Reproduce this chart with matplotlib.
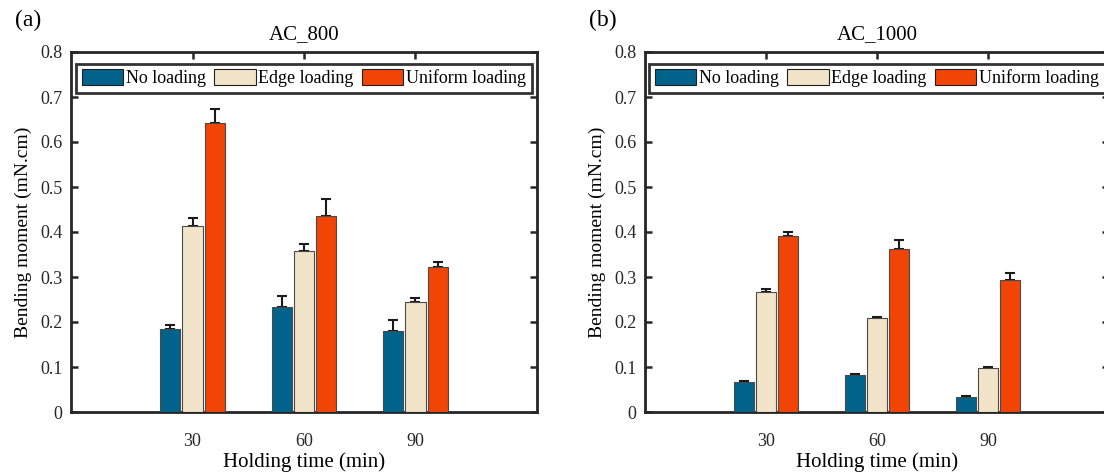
import numpy as np
import matplotlib
matplotlib.use('Agg')
import matplotlib.pyplot as plt
from matplotlib.ticker import FuncFormatter

plt.rcParams['font.family'] = ['Liberation Serif', 'DejaVu Serif']

# data
times = ['30', '60', '90']
series = ['No loading', 'Edge loading', 'Uniform loading']
colors = ['#00638C', '#F2E4C8', '#F24405']

ac800_mean = [[0.185, 0.233, 0.180],
              [0.413, 0.358, 0.244],
              [0.642, 0.435, 0.322]]
ac800_err = [[0.008, 0.024, 0.024],
             [0.018, 0.016, 0.009],
             [0.031, 0.038, 0.012]]

ac1000_mean = [[0.066, 0.083, 0.033],
               [0.267, 0.209, 0.098],
               [0.391, 0.362, 0.294]]
ac1000_err = [[0.003, 0.002, 0.003],
              [0.006, 0.002, 0.002],
              [0.008, 0.020, 0.014]]

panels = [('(a)', 'AC_800', ac800_mean, ac800_err),
          ('(b)', 'AC_1000', ac1000_mean, ac1000_err)]

fig = plt.figure(figsize=(11.04, 4.73), dpi=100)
W, H = 1104., 473.
# axes boxes in pixels: left, right, top, bottom
boxes = [(71, 537, 52, 412), (645, 1109, 52, 412)]

x = np.arange(1, len(times) + 1)
width = 0.18
offsets = [-0.2, 0.0, 0.2]
edge = '#4a4a4a'

for (label, title, means, errs), (l, r, t, b) in zip(panels, boxes):
    ax = fig.add_axes([l / W, 1 - b / H, (r - l) / W, (b - t) / H])
    handles = []
    for i in range(len(series)):
        xs = x + offsets[i]
        bars = ax.bar(xs, means[i], width, color=colors[i], edgecolor=edge,
                      linewidth=0.8, label=series[i], zorder=3)
        handles.append(bars)
        ax.errorbar(xs, means[i], yerr=[np.zeros(len(errs[i])), errs[i]],
                    fmt='none', ecolor='#1a1a1a', elinewidth=1.5,
                    capsize=3.3, capthick=1.5, zorder=2)
    ax.set_xlim(-0.09, 4.09)
    ax.set_ylim(0, 0.8)
    ax.set_xticks(x)
    ax.set_xticklabels(times)
    ax.set_yticks(np.arange(0, 0.81, 0.1))
    ax.yaxis.set_major_formatter(FuncFormatter(lambda v, p: '0' if abs(v) < 1e-9 else '%.1f' % v))
    ax.tick_params(direction='in', length=5, width=1.8, top=True, right=True,
                   labelsize=13, colors='#262626', pad=6)
    ax.tick_params(axis='x', pad=15)
    for tl in ax.get_xticklabels() + ax.get_yticklabels():
        tl.set_color('#262626')
    for s in ax.spines.values():
        s.set_linewidth(2.0)
        s.set_color('#262626')
    ax.set_title(title, fontsize=15, pad=9)
    ax.set_xlabel('Holding time (min)', fontsize=15, labelpad=2)
    ax.set_ylabel('Bending moment (mN.cm)', fontsize=14, labelpad=6)
    leg = ax.legend(handles=handles, loc='upper center', ncol=3, fontsize=13,
                    frameon=True, fancybox=False, handlelength=2.3,
                    handleheight=0.95, handletextpad=0.15, columnspacing=0.45,
                    borderpad=0.3, borderaxespad=0.65)
    leg.get_frame().set_edgecolor('black')
    leg.get_frame().set_linewidth(2.0)
    for p in leg.get_patches():
        p.set_edgecolor('#202020')
    fig.text((l - 56) / W, 1 - 20 / H, label, fontsize=17, va='center', ha='left')

fig.savefig('out.png', dpi=100)
